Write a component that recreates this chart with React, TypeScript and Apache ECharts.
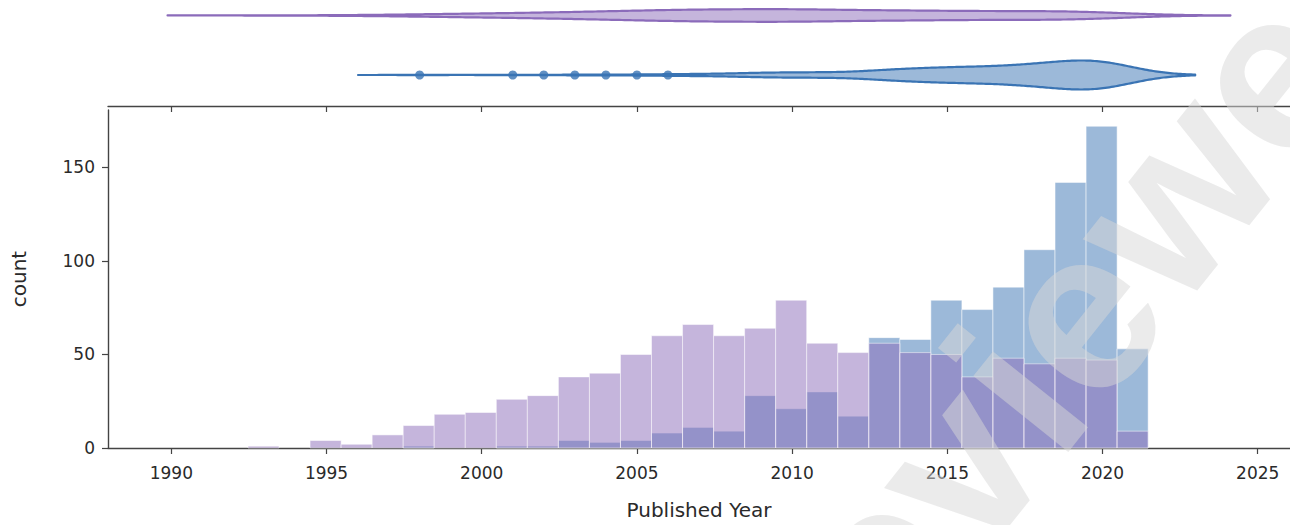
import React, { useEffect, useRef } from "react";
import * as echarts from "echarts";

// ---- data ----
const YEARS = [1993, 1994, 1995, 1996, 1997, 1998, 1999, 2000, 2001, 2002, 2003, 2004, 2005, 2006, 2007, 2008, 2009, 2010, 2011, 2012, 2013, 2014, 2015, 2016, 2017, 2018, 2019, 2020, 2021];
const PURPLE_COUNTS = [1, 0, 4, 2, 7, 12, 18, 19, 26, 28, 38, 40, 50, 60, 66, 60, 64, 79, 56, 51, 56, 51, 50, 38, 48, 45, 48, 47, 9];
const BLUE_COUNTS = [0, 0, 0, 0, 0, 1, 0, 0, 1, 1, 4, 3, 4, 8, 11, 9, 28, 21, 30, 17, 59, 58, 79, 74, 86, 106, 142, 172, 53];
const X_TICKS = [1990, 1995, 2000, 2005, 2010, 2015, 2020, 2025];
const Y_TICKS = [0, 50, 100, 150];
const BIN_START = 1992.47;
const BIN_SIZE = 1;
const X_MIN = 1987.96;
const X_MAX = 2026.04;
const Y_MAX = 180.7;

const PURPLE = "#8B6BBA";
const BLUE = "#3A74B4";
const TEXT = "#2a2a2a";
const AXIS = "#444";
const FONT = "DejaVu Sans";
const HALF_W = 14.5;

function rgba(hex: string, a: number) {
  const n = parseInt(hex.slice(1), 16);
  return `rgba(${(n >> 16) & 255},${(n >> 8) & 255},${n & 255},${a})`;
}

function violinStats(years: number[], counts: number[]) {
  const s: number[] = [];
  years.forEach((y, i) => {
    for (let k = 0; k < counts[i]; k++) s.push(y);
  });
  const n = s.length;
  const mean = s.reduce((a, b) => a + b, 0) / n;
  const sd = Math.sqrt(s.reduce((a, b) => a + (b - mean) * (b - mean), 0) / (n - 1));
  const q = (p: number) => {
    const pos = (n - 1) * p;
    const lo = Math.floor(pos);
    const hi = Math.ceil(pos);
    return s[lo] + (s[hi] - s[lo]) * (pos - lo);
  };
  const q1 = q(0.25);
  const q3 = q(0.75);
  const iqr = q3 - q1;
  const bw = 1.059 * Math.min(sd, iqr / 1.349) * Math.pow(n, -0.2);
  const lo = s[0] - 2 * bw;
  const hi = s[n - 1] + 2 * bw;
  const dens = (x: number) => {
    let t = 0;
    years.forEach((y, i) => {
      if (counts[i]) {
        const z = (x - y) / bw;
        t += counts[i] * Math.exp(-0.5 * z * z);
      }
    });
    return t / (n * bw * Math.sqrt(2 * Math.PI));
  };
  const xs: number[] = [];
  for (let i = 0; i <= 400; i++) xs.push(lo + ((hi - lo) * i) / 400);
  const ds = xs.map(dens);
  const outliers = Array.from(new Set(s.filter((v) => v < q1 - 1.5 * iqr || v > q3 + 1.5 * iqr)));
  return { xs, ds, outliers, max: Math.max(...ds) };
}

export default function App() {
  const ref = useRef<HTMLDivElement>(null);

  useEffect(() => {
    if (!ref.current) return;
    const chart = echarts.init(ref.current, null, { renderer: "svg" });

    const blueSt = violinStats(YEARS, BLUE_COUNTS);
    const purpleSt = violinStats(YEARS, PURPLE_COUNTS);
    const dMax = Math.max(blueSt.max, purpleSt.max);

    const histData = (counts: number[]) =>
      YEARS.map((_, i) => [BIN_START + i * BIN_SIZE, BIN_START + (i + 1) * BIN_SIZE, counts[i]]);

    const histRender = (color: string) => (params: any, api: any) => {
      const c = api.value(2);
      if (!c) return null;
      const p0 = api.coord([api.value(0), c]);
      const p1 = api.coord([api.value(1), 0]);
      return {
        type: "rect",
        shape: { x: p0[0], y: p0[1], width: p1[0] - p0[0], height: p1[1] - p0[1] },
        style: { fill: color, stroke: "#ffffff", lineWidth: 1, opacity: 0.5 },
      };
    };

    const violinRender = (st: any, center: number, color: string) => (params: any, api: any) => {
      const top: number[][] = [];
      const bot: number[][] = [];
      st.xs.forEach((x: number, i: number) => {
        const p = api.coord([x, center]);
        const h = (HALF_W * st.ds[i]) / dMax;
        top.push([p[0], p[1] - h]);
        bot.push([p[0], p[1] + h]);
      });
      return {
        type: "polygon",
        shape: { points: top.concat(bot.reverse()) },
        style: { fill: rgba(color, 0.5), stroke: color, lineWidth: 2.2, lineJoin: "round" },
      };
    };

    const axisTickStyle = { show: true, length: 6, inside: false, lineStyle: { color: AXIS, width: 1.2 } };
    const plain = (v: number) => String(Math.round(v));

    chart.setOption({
      animation: false,
      backgroundColor: "#ffffff",
      grid: [
        { left: 108, top: 110, width: 1182, height: 339.3, containLabel: false },
        { left: 108, top: 0, width: 1182, height: 106, containLabel: false },
      ],
      xAxis: [
        {
          type: "value",
          gridIndex: 0,
          min: X_MIN,
          max: X_MAX,
          position: "bottom",
          axisLine: { show: true, onZero: false, lineStyle: { color: AXIS, width: 1.4 } },
          axisTick: { ...axisTickStyle, customValues: X_TICKS },
          axisLabel: { customValues: X_TICKS, formatter: plain, fontSize: 17, margin: 16, color: TEXT, fontFamily: FONT },
          splitLine: { show: false },
          name: "Published Year",
          nameLocation: "middle",
          nameGap: 52,
          nameTextStyle: { fontSize: 20, color: TEXT, fontFamily: FONT },
        },
        {
          type: "value",
          gridIndex: 1,
          min: X_MIN,
          max: X_MAX,
          position: "bottom",
          axisLine: { show: true, onZero: false, lineStyle: { color: AXIS, width: 1.4 } },
          axisTick: { ...axisTickStyle, customValues: X_TICKS },
          axisLabel: { show: false },
          splitLine: { show: false },
        },
      ],
      yAxis: [
        {
          type: "value",
          gridIndex: 0,
          min: 0,
          max: Y_MAX,
          axisLine: { show: true, onZero: false, lineStyle: { color: AXIS, width: 1.4 } },
          axisTick: { ...axisTickStyle, customValues: Y_TICKS },
          axisLabel: { customValues: Y_TICKS, formatter: plain, fontSize: 17, margin: 13, color: TEXT, fontFamily: FONT },
          splitLine: { show: false },
          name: "count",
          nameLocation: "middle",
          nameGap: 79,
          nameTextStyle: { fontSize: 20, color: TEXT, fontFamily: FONT },
        },
        {
          type: "value",
          gridIndex: 1,
          min: -0.521,
          max: 1.26,
          show: false,
        },
      ],
      series: [
        {
          type: "custom",
          name: "blue",
          xAxisIndex: 0,
          yAxisIndex: 0,
          data: histData(BLUE_COUNTS),
          encode: { x: [0, 1], y: 2 },
          renderItem: histRender(BLUE),
          z: 2,
        },
        {
          type: "custom",
          name: "purple",
          xAxisIndex: 0,
          yAxisIndex: 0,
          data: histData(PURPLE_COUNTS),
          encode: { x: [0, 1], y: 2 },
          renderItem: histRender(PURPLE),
          z: 3,
        },
        {
          type: "custom",
          name: "blue violin",
          xAxisIndex: 1,
          yAxisIndex: 1,
          data: [[blueSt.xs[0], 0]],
          encode: { x: 0, y: 1 },
          renderItem: violinRender(blueSt, 0, BLUE),
          z: 2,
        },
        {
          type: "custom",
          name: "purple violin",
          xAxisIndex: 1,
          yAxisIndex: 1,
          data: [[purpleSt.xs[0], 1]],
          encode: { x: 0, y: 1 },
          renderItem: violinRender(purpleSt, 1, PURPLE),
          z: 2,
        },
        {
          type: "scatter",
          name: "blue outliers",
          xAxisIndex: 1,
          yAxisIndex: 1,
          data: blueSt.outliers.map((v) => [v, 0]),
          symbol: "circle",
          symbolSize: 9,
          itemStyle: { color: BLUE },
          z: 4,
        },
      ],
      graphic: [
        {
          type: "text",
          x: 1040,
          y: 360,
          rotation: (51.4 * Math.PI) / 180,
          z: 100,
          silent: true,
          style: {
            text: "Previewed",
            fontSize: 230,
            fontWeight: "bold",
            fontFamily: "Liberation Sans",
            fill: "rgba(215,215,215,0.5)",
            textAlign: "center",
            textVerticalAlign: "middle",
            align: "center",
            verticalAlign: "middle",
          },
        },
      ],
    });

    return () => chart.dispose();
  }, []);

  return (
    <div
      ref={ref}
      style={{ position: "fixed", left: 0, top: 0, width: 1290, height: 525, background: "#fff" }}
    />
  );
}
